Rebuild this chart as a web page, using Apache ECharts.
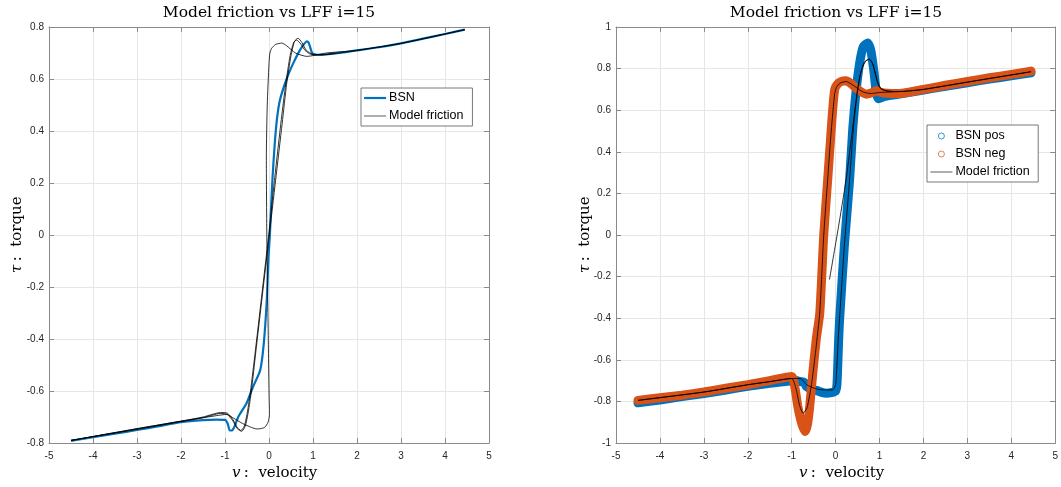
<!DOCTYPE html>
<html>
<head>
<meta charset="utf-8">
<script src="https://cdn.jsdelivr.net/npm/echarts@6/dist/echarts.min.js"></script>
<style>
  html, body { margin: 0; padding: 0; background: #fff; }
  #chart { width: 1061px; height: 487px; }
</style>
</head>
<body>
<div id="chart"></div>
<script>
// ---- Left panel: BSN curve and model friction (velocity, torque) ----
const leftBsnV = [-4.5, -4, -3.5, -3, -2.5, -2, -1.5, -1.2, -1.0, -0.94, -0.89, -0.84, -0.78, -0.70, -0.60, -0.51, -0.36, -0.2, -0.12, -0.05, -0.01, 0.02, 0.04, 0.08, 0.13, 0.18, 0.25, 0.4, 0.55, 0.7, 0.8, 0.86, 0.9, 0.94, 0.98, 1.05, 1.2, 1.5, 2.0, 2.5, 3.0, 3.5, 4.0, 4.45];
const leftBsnT = [-0.792, -0.778, -0.764, -0.750, -0.735, -0.720, -0.712, -0.710, -0.711, -0.725, -0.752, -0.752, -0.735, -0.700, -0.672, -0.647, -0.583, -0.52, -0.42, -0.25, -0.08, 0.0, 0.08, 0.22, 0.35, 0.445, 0.52, 0.60, 0.66, 0.71, 0.735, 0.745, 0.74, 0.72, 0.70, 0.694, 0.693, 0.698, 0.71, 0.722, 0.737, 0.755, 0.773, 0.79];

// model friction: rising sweep, falling sweep, second rising sweep
const leftModelV = [
  -4.5, -3.5, -2.5, -2, -1.5, -1.1, -0.95, -0.82, -0.72, -0.62, -0.54, -0.47, -0.40, -0.30, -0.15, 0.0, 0.15, 0.30, 0.40, 0.50, 0.58, 0.66, 0.75, 0.85, 1.0, 1.3, 1.6, 2.0, 3.0, 4.45,
  3.0, 2.0, 1.3, 1.0, 0.86, 0.6, 0.4, 0.29, 0.15, 0.06, 0.02, 0.0, -0.04, -0.06, -0.05, -0.02, 0.0, 0.01, -0.02, -0.1, -0.2, -0.28, -0.4, -0.6, -0.8, -0.96, -1.2, -2.0, -3.0, -4.5,
  -3.0, -2.0, -1.5, -1.1, -0.95, -0.82, -0.72, -0.64, -0.56, -0.49, -0.42, -0.32, -0.17, -0.02, 0.13, 0.28, 0.38, 0.48, 0.56, 0.63, 0.72, 0.82, 0.95, 1.2, 1.5
];
const leftModelT = [
  -0.79, -0.762, -0.733, -0.718, -0.703, -0.686, -0.69, -0.715, -0.745, -0.755, -0.735, -0.68, -0.60, -0.45, -0.23, -0.01, 0.21, 0.43, 0.58, 0.69, 0.745, 0.757, 0.74, 0.71, 0.695, 0.694, 0.70, 0.71, 0.737, 0.79,
  0.737, 0.71, 0.70, 0.69, 0.687, 0.70, 0.728, 0.738, 0.733, 0.718, 0.70, 0.66, 0.5, 0.3, 0.0, -0.35, -0.6, -0.69, -0.72, -0.74, -0.745, -0.746, -0.74, -0.725, -0.705, -0.69, -0.695, -0.716, -0.745, -0.79,
  -0.745, -0.716, -0.70, -0.683, -0.685, -0.71, -0.74, -0.752, -0.735, -0.68, -0.60, -0.46, -0.24, -0.02, 0.22, 0.445, 0.58, 0.69, 0.74, 0.75, 0.735, 0.71, 0.695, 0.693, 0.70
];

// ---- Right panel: BSN positive / negative sweeps and model friction ----
const posV = [-4.5, -4, -3.5, -3, -2.5, -2, -1.5, -1.1, -0.9, -0.8, -0.72, -0.66, -0.55, -0.44, -0.3, -0.21, -0.1, 0.0, 0.03, 0.05, 0.07, 0.09, 0.2, 0.32, 0.39, 0.47, 0.55, 0.63, 0.73, 0.8, 0.87, 0.93, 0.98, 1.1, 1.45, 2.0, 2.5, 3.0, 3.5, 4.0, 4.45];
const posT = [-0.807, -0.793, -0.777, -0.762, -0.745, -0.728, -0.713, -0.703, -0.70, -0.705, -0.708, -0.729, -0.74, -0.747, -0.758, -0.761, -0.758, -0.75, -0.72, -0.62, -0.5, -0.41, -0.05, 0.27, 0.51, 0.70, 0.83, 0.905, 0.923, 0.89, 0.79, 0.68, 0.655, 0.665, 0.677, 0.697, 0.715, 0.732, 0.75, 0.765, 0.78];

const negV = [4.45, 4.0, 3.5, 3.0, 2.5, 2.0, 1.45, 1.1, 1.0, 0.93, 0.85, 0.7, 0.5, 0.35, 0.24, 0.12, 0.03, -0.02, -0.06, -0.10, -0.18, -0.27, -0.36, -0.44, -0.52, -0.59, -0.64, -0.69, -0.76, -0.86, -0.93, -1.0, -1.5, -2.0, -2.5, -3.0, -3.5, -4.0, -4.5];
const negT = [0.788, 0.772, 0.756, 0.738, 0.72, 0.70, 0.68, 0.683, 0.688, 0.695, 0.686, 0.677, 0.70, 0.728, 0.741, 0.737, 0.722, 0.70, 0.62, 0.508, 0.267, 0.0, -0.375, -0.50, -0.664, -0.825, -0.91, -0.945, -0.915, -0.825, -0.729, -0.68, -0.70, -0.72, -0.737, -0.755, -0.77, -0.782, -0.795];

const modelV = [
  -0.14, 0.05, 0.24, 0.35, 0.45, 0.55, 0.65, 0.77, 0.85, 0.92, 1.0, 1.2, 1.5, 2.0, 3.0, 4.45,
  3.0, 2.0, 1.5, 1.0, 0.8, 0.6, 0.4, 0.24, 0.1, 0.02, -0.02, -0.1, -0.18, -0.27, -0.36, -0.45, -0.55, -0.65, -0.74, -0.82, -0.9, -1.0, -1.5, -2.0, -3.0, -4.5,
  -3.0, -2.0, -1.5, -1.0, -0.8, -0.66, -0.44, -0.25, -0.07, 0.0, 0.03, 0.06, 0.09, 0.2, 0.32, 0.4, 0.5, 0.6, 0.7, 0.77, 0.85, 0.95, 1.05, 1.3
];
const modelT = [
  -0.214, 0.02, 0.267, 0.45, 0.62, 0.76, 0.83, 0.845, 0.82, 0.76, 0.71, 0.69, 0.69, 0.70, 0.735, 0.785,
  0.735, 0.70, 0.69, 0.685, 0.68, 0.69, 0.72, 0.738, 0.73, 0.71, 0.68, 0.5, 0.27, 0.0, -0.37, -0.55, -0.72, -0.83, -0.857, -0.82, -0.74, -0.69, -0.705, -0.72, -0.755, -0.795,
  -0.755, -0.72, -0.705, -0.69, -0.69, -0.72, -0.74, -0.745, -0.745, -0.72, -0.62, -0.5, -0.40, -0.05, 0.27, 0.5, 0.7, 0.8, 0.84, 0.845, 0.82, 0.74, 0.70, 0.69
];

const xTicks = { min: -5, max: 5, step: 1 };
const yTicksLeft = { min: -0.8, max: 0.8, step: 0.2 };
const yTicksRight = { min: -1, max: 1, step: 0.2 };

const zip = (xs, ys) => xs.map((x, i) => [x, ys[i]]);

const AXIS_COLOR = '#8a8a8a';
const LABEL_COLOR = '#262626';
const GRID_COLOR = '#e6e6e6';
const SANS = '"Liberation Sans", Arial, Helvetica, sans-serif';
const SERIF = '"DejaVu Serif", "Liberation Serif", serif';

function xAxisPair(gridIndex) {
  const base = {
    gridIndex, type: 'value', min: xTicks.min, max: xTicks.max, interval: xTicks.step,
    axisLine: { show: true, onZero: false, lineStyle: { color: AXIS_COLOR, width: 1 } },
    axisTick: { show: true, inside: true, length: 5, lineStyle: { color: AXIS_COLOR } }
  };
  return [
    Object.assign({}, base, {
      position: 'bottom',
      axisLabel: { show: true, fontSize: 10, color: LABEL_COLOR, fontFamily: SANS, margin: 8 },
      splitLine: { show: true, lineStyle: { color: GRID_COLOR, width: 1 } }
    }),
    Object.assign({}, base, {
      position: 'top', axisLabel: { show: false }, splitLine: { show: false }
    })
  ];
}

function yAxisPair(gridIndex, ticks) {
  const base = {
    gridIndex, type: 'value', min: ticks.min, max: ticks.max, interval: ticks.step,
    axisLine: { show: true, onZero: false, lineStyle: { color: AXIS_COLOR, width: 1 } },
    axisTick: { show: true, inside: true, length: 5, lineStyle: { color: AXIS_COLOR } }
  };
  return [
    Object.assign({}, base, {
      position: 'left',
      axisLabel: {
        show: true, fontSize: 10, color: LABEL_COLOR, fontFamily: SANS, margin: 5,
        formatter: v => String(Math.round(v * 10) / 10)
      },
      splitLine: { show: true, lineStyle: { color: GRID_COLOR, width: 1 } }
    }),
    Object.assign({}, base, {
      position: 'right', axisLabel: { show: false }, splitLine: { show: false }
    })
  ];
}

const titleText = 'Model friction vs LFF i=15';
const nameRich = {
  it: { fontFamily: SERIF, fontStyle: 'italic', fontSize: 15, color: '#000' },
  rm: { fontFamily: SERIF, fontSize: 15, color: '#000' }
};
const legendText = { fontFamily: SANS, fontSize: 12.5, color: '#000', lineHeight: 14, padding: [0, 0, 0, -2] };

const chart = echarts.init(document.getElementById('chart'), null, { renderer: 'canvas' });

chart.setOption({
  animation: false,
  backgroundColor: '#fff',
  title: [
    { text: titleText, left: 269, top: 5, textAlign: 'center', padding: 0,
      textStyle: { fontFamily: SERIF, fontWeight: 'normal', fontSize: 15.5, color: '#000' } },
    { text: titleText, left: 836, top: 5, textAlign: 'center', padding: 0,
      textStyle: { fontFamily: SERIF, fontWeight: 'normal', fontSize: 15.5, color: '#000' } }
  ],
  grid: [
    { left: 49, top: 27, width: 440, height: 416, containLabel: false },
    { left: 616, top: 27, width: 440, height: 416, containLabel: false }
  ],
  xAxis: [...xAxisPair(0), ...xAxisPair(1)],
  yAxis: [...yAxisPair(0, yTicksLeft), ...yAxisPair(1, yTicksRight)],
  legend: [
    {
      orient: 'vertical', left: 361, top: 88,
      padding: [3, 9, 3, 2], itemGap: 4, itemWidth: 22, itemHeight: 14,
      borderColor: '#555', borderWidth: 0.8, backgroundColor: '#fff',
      textStyle: legendText,
      data: [
        { name: 'BSN', itemStyle: { opacity: 0 }, lineStyle: { width: 2.2 } },
        { name: 'Model friction', itemStyle: { opacity: 0 }, lineStyle: { width: 0.8, color: '#333' } }
      ]
    },
    {
      orient: 'vertical', left: 927, top: 125,
      padding: [4, 5, 3, 3], itemGap: 4, itemWidth: 22, itemHeight: 6,
      borderColor: '#555', borderWidth: 0.8, backgroundColor: '#fff',
      textStyle: legendText,
      data: [
        { name: 'BSN pos', icon: 'circle', itemStyle: { color: '#fff', borderColor: '#3d94d0', borderWidth: 1 } },
        { name: 'BSN neg', icon: 'circle', itemStyle: { color: '#fff', borderColor: '#e37f56', borderWidth: 1 } },
        { name: 'Model friction ', itemStyle: { opacity: 0 }, lineStyle: { width: 0.8, color: '#333' } }
      ]
    }
  ],
  graphic: [
    { type: 'text', left: 232, top: 466,
      style: { text: '{it|v} {rm|:  velocity}', rich: nameRich } },
    { type: 'text', left: 799, top: 466,
      style: { text: '{it|v} {rm|:  velocity}', rich: nameRich } },
    { type: 'text', x: 10, y: 273, rotation: Math.PI / 2,
      style: { text: '{it|τ} {rm|:  torque}', rich: nameRich } },
    { type: 'text', x: 578, y: 273, rotation: Math.PI / 2,
      style: { text: '{it|τ} {rm|:  torque}', rich: nameRich } }
  ],
  series: [
    {
      name: 'BSN', type: 'line', xAxisIndex: 0, yAxisIndex: 0,
      data: zip(leftBsnV, leftBsnT), symbol: 'none', smooth: 0.2,
      lineStyle: { color: '#0072BD', width: 2.2 }, itemStyle: { color: '#0072BD' }, z: 2
    },
    {
      name: 'Model friction', type: 'line', xAxisIndex: 0, yAxisIndex: 0,
      data: zip(leftModelV, leftModelT), symbol: 'none', smooth: 0.2,
      lineStyle: { color: '#000', width: 0.8 }, itemStyle: { color: '#000' }, z: 3
    },
    {
      name: 'BSN pos', type: 'line', xAxisIndex: 2, yAxisIndex: 2,
      data: zip(posV, posT), symbol: 'none', smooth: 0.2,
      lineStyle: { color: '#0072BD', width: 9, cap: 'round', join: 'round' },
      itemStyle: { color: '#0072BD' }, z: 2
    },
    {
      name: 'BSN neg', type: 'line', xAxisIndex: 2, yAxisIndex: 2,
      data: zip(negV, negT), symbol: 'none', smooth: 0.2,
      lineStyle: { color: '#D95319', width: 9, cap: 'round', join: 'round' },
      itemStyle: { color: '#D95319' }, z: 3
    },
    {
      name: 'Model friction ', type: 'line', xAxisIndex: 2, yAxisIndex: 2,
      data: zip(modelV, modelT), symbol: 'none', smooth: 0.2,
      lineStyle: { color: '#000', width: 0.8 }, itemStyle: { color: '#000' }, z: 4
    }
  ]
});
</script>
</body>
</html>
